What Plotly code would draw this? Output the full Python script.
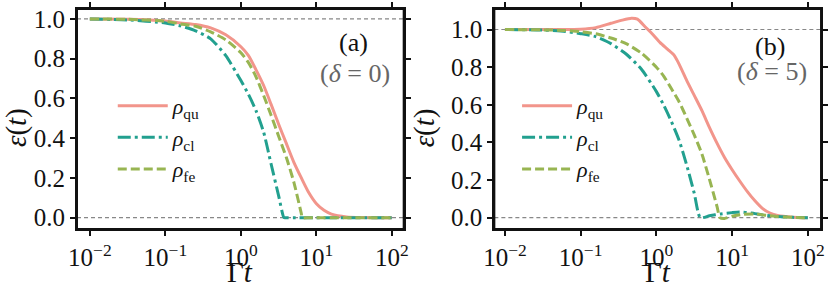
import plotly.graph_objects as go

# ---------------- data ----------------
# panel (a): delta = 0
t_qu_a = [0.01, 0.0316, 0.1, 0.158, 0.251, 0.398, 0.631, 1.0, 1.26, 1.58, 2.0, 2.51, 3.16,
          3.98, 5.01, 6.31, 7.94, 10.0, 12.6, 15.8, 25.1, 39.8, 100.0]
qu_a = [1.0, 0.999, 0.99, 0.98, 0.972, 0.955, 0.92, 0.86, 0.815, 0.745, 0.665, 0.57, 0.47,
        0.375, 0.28, 0.2, 0.125, 0.07, 0.037, 0.018, 0.004, 0.001, 0.0]

t_cl_a = [0.01, 0.0316, 0.1, 0.158, 0.251, 0.398, 0.631, 1.0, 1.26, 1.58, 2.0, 2.51, 3.16,
          3.72, 3.98, 5.01, 10.0, 25.1, 100.0]
cl_a = [1.0, 0.995, 0.98, 0.965, 0.94, 0.9, 0.815, 0.69, 0.62, 0.54, 0.43, 0.27, 0.11,
        0.0, 0.0, 0.0, 0.0, 0.0, 0.0]

t_fe_a = [0.01, 0.0316, 0.1, 0.158, 0.251, 0.398, 0.631, 1.0, 1.26, 1.58, 2.0, 2.51, 3.16,
          3.98, 5.01, 6.31, 6.46, 7.94, 10.0, 25.1, 100.0]
fe_a = [1.0, 0.998, 0.988, 0.975, 0.963, 0.935, 0.895, 0.83, 0.78, 0.71, 0.615, 0.515, 0.41,
        0.305, 0.18, 0.02, 0.0, 0.0, 0.0, 0.0, 0.0]

# panel (b): delta = 5
t_qu_b = [0.01, 0.0316, 0.1, 0.158, 0.251, 0.355, 0.468, 0.562, 0.708, 0.891, 1.12, 1.41,
          1.70, 2.0, 2.51, 3.16, 3.98, 5.01, 6.31, 7.94, 10.0, 12.6, 15.8, 20.0, 25.1, 31.6,
          39.8, 63.1, 100.0]
qu_b = [1.0, 1.0, 1.002, 1.01, 1.033, 1.05, 1.06, 1.055, 1.015, 0.975, 0.93, 0.895,
        0.865, 0.815, 0.73, 0.65, 0.57, 0.48, 0.396, 0.32, 0.255, 0.195, 0.14, 0.09, 0.05, 0.025,
        0.012, 0.003, 0.0]

t_cl_b = [0.01, 0.0316, 0.0631, 0.1, 0.158, 0.251, 0.398, 0.631, 1.0, 1.26, 1.58, 2.0, 2.51,
          3.16, 3.80, 5.01, 7.08, 10.0, 12.6, 17.8, 25.1, 39.8, 63.1, 100.0]
cl_b = [1.0, 0.997, 0.99, 0.978, 0.962, 0.925, 0.87, 0.79, 0.67, 0.595, 0.51, 0.41, 0.28,
        0.13, 0.0, 0.01, 0.02, 0.027, 0.03, 0.025, 0.015, 0.006, 0.002, 0.0]

t_fe_b = [0.01, 0.0316, 0.0631, 0.1, 0.158, 0.251, 0.398, 0.631, 1.0, 1.26, 1.58, 2.0, 2.51,
          3.16, 3.98, 5.01, 6.31, 6.92, 7.94, 10.0, 14.1, 20.0, 28.2, 39.8, 63.1, 100.0]
fe_b = [1.0, 0.998, 0.995, 0.988, 0.977, 0.955, 0.925, 0.875, 0.8, 0.75, 0.685, 0.615, 0.53,
        0.44, 0.34, 0.205, 0.06, 0.0, -0.004, 0.008, 0.018, 0.02, 0.013, 0.006, 0.002, 0.0]

x_tick_vals = [0.01, 0.1, 1, 10, 100]
x_tick_text = ["10<sup>\u22122</sup>", "10<sup>\u22121</sup>", "10<sup>0</sup>",
               "10<sup>1</sup>", "10<sup>2</sup>"]
y_tick_vals = [0.0, 0.2, 0.4, 0.6, 0.8, 1.0]

names = ["<i>\u03c1</i><sub>qu</sub>", "<i>\u03c1</i><sub>cl</sub>", "<i>\u03c1</i><sub>fe</sub>"]
colors = ["#F2958B", "#22A08F", "#98B552"]
dashes = ["solid", "13px,4px,3px,4px", "9px,4px"]

FONT = "Liberation Serif"
INK = "#111111"

fig = go.Figure()

panels = [
    ("x", "y", "legend", [(t_qu_a, qu_a), (t_cl_a, cl_a), (t_fe_a, fe_a)]),
    ("x2", "y2", "legend2", [(t_qu_b, qu_b), (t_cl_b, cl_b), (t_fe_b, fe_b)]),
]
for xa, ya, lg, series in panels:
    for (tt, vv), nm, col, ds in zip(series, names, colors, dashes):
        fig.add_trace(go.Scatter(
            x=tt, y=vv, mode="lines", name=nm, xaxis=xa, yaxis=ya, legend=lg,
            line=dict(color=col, width=3, dash=ds, shape="spline", smoothing=0.6),
        ))


def axis_common():
    return dict(
        showline=True, mirror="ticks", linecolor=INK, linewidth=2,
        ticks="outside", ticklen=5, tickwidth=2, tickcolor=INK,
        showgrid=False, zeroline=False, layer="above traces",
        tickfont=dict(family=FONT, size=25, color=INK),
    )


fig.update_layout(
    width=830, height=291,
    margin=dict(l=77, r=5, t=2, b=62),
    paper_bgcolor="#ffffff", plot_bgcolor="#ffffff",
    font=dict(family=FONT, color=INK),
    xaxis=dict(domain=[0, 0.4385], type="log", range=[-2.17, 2.155],
               tickvals=x_tick_vals, ticktext=x_tick_text, **axis_common()),
    yaxis=dict(range=[-0.057, 1.05], tickvals=y_tick_vals, tickformat=".1f", **axis_common()),
    xaxis2=dict(domain=[0.5602, 0.9987], type="log", range=[-2.14, 2.174], anchor="y2",
                tickvals=x_tick_vals, ticktext=x_tick_text, **axis_common()),
    yaxis2=dict(range=[-0.06, 1.109], tickvals=y_tick_vals, tickformat=".1f", anchor="x2",
                **axis_common()),
    legend=dict(x=0.048, y=0.655, xanchor="left", yanchor="top", bgcolor="rgba(0,0,0,0)",
                font=dict(family=FONT, size=22), itemwidth=50, tracegroupgap=0),
    legend2=dict(x=0.5907, y=0.655, xanchor="left", yanchor="top", bgcolor="rgba(0,0,0,0)",
                 font=dict(family=FONT, size=22), itemwidth=50, tracegroupgap=0),
    showlegend=True,
)

# reference lines at 0 and 1
for xr, yr in [("x domain", "y"), ("x2 domain", "y2")]:
    for yv in [0.0, 1.0]:
        fig.add_shape(type="line", xref=xr, yref=yr, x0=0, x1=1, y0=yv, y1=yv,
                      line=dict(color="#888888", width=1.2, dash="4px,3px"), layer="below")

# panel frames as thin filled bars (2 px) along each edge
for xr, yr in [("x domain", "y domain"), ("x2 domain", "y2 domain")]:
    for edge in [0, 1]:
        fig.add_shape(type="rect", xref=xr, yref=yr, xsizemode="pixel", xanchor=edge,
                      x0=-1, x1=1, y0=0, y1=1, fillcolor=INK, line=dict(width=0),
                      layer="above")
        fig.add_shape(type="rect", xref=xr, yref=yr, ysizemode="pixel", yanchor=edge,
                      y0=-1, y1=1, x0=0, x1=1, fillcolor=INK, line=dict(width=0),
                      layer="above")

# axis titles
for xc, yc in [(0.2193, -0.197), (0.7795, -0.197)]:
    fig.add_annotation(x=xc, y=yc, xref="paper", yref="paper", text="\u0393<i>t</i>",
                       showarrow=False, font=dict(family=FONT, size=29, color=INK),
                       xanchor="center", yanchor="middle")
for xc in [-0.0802, 0.4665]:
    fig.add_annotation(x=xc, y=0.46, xref="paper", yref="paper",
                       text="<i>\u03b5</i>(<i>t</i>)", textangle=-90,
                       showarrow=False, font=dict(family=FONT, size=29, color=INK),
                       xanchor="center", yanchor="middle")

ann = [
    (0.3717, 0.847, "(a)", INK),
    (0.373, 0.706, "(<i>\u03b4</i> = 0)", "#666666"),
    (0.9305, 0.829, "(b)", INK),
    (0.933, 0.715, "(<i>\u03b4</i> = 5)", "#666666"),
]
for x, y, txt, col in ann:
    fig.add_annotation(x=x, y=y, xref="paper", yref="paper", text=txt, showarrow=False,
                       font=dict(family=FONT, size=26, color=col), xanchor="center", yanchor="middle")

# the page body has a default 8px margin; remove it so the figure sits at the window origin
fig.write_html("out.html", config={"displayModeBar": False},
               post_script="document.body.style.margin='0';document.body.style.padding='0';")
